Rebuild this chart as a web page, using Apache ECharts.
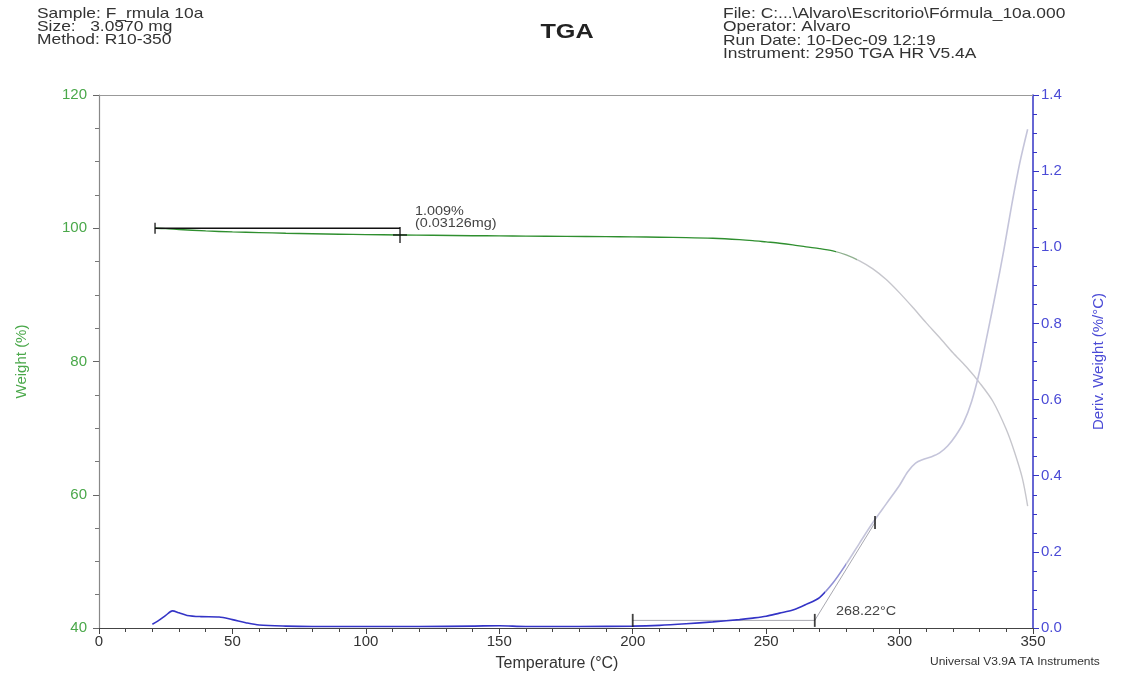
<!DOCTYPE html>
<html>
<head>
<meta charset="utf-8">
<title>TGA</title>
<script src="https://cdn.jsdelivr.net/npm/echarts@6/dist/echarts.min.js"></script>
<style>
  html, body { margin: 0; padding: 0; background: #fff; }
  #chart { width: 1142px; height: 680px; }
</style>
</head>
<body>
<div id="chart"></div>
<script>
// Weight curve: temperature (°C) and weight (%)
var weightTemp = [21, 25, 30, 40, 50, 60, 70, 80, 90, 100, 112.8, 125, 140, 150, 160, 175, 190, 200, 210, 220, 230, 240, 245, 250, 255, 260, 265, 270, 275, 280, 285, 290, 295, 300, 305, 310, 315, 320, 325, 330, 335, 340, 343, 346, 348];
var weightPct = [100.0, 99.95, 99.82, 99.6, 99.45, 99.35, 99.25, 99.17, 99.1, 99.05, 98.99, 98.94, 98.88, 98.85, 98.82, 98.78, 98.74, 98.7, 98.65, 98.6, 98.5, 98.3, 98.15, 97.95, 97.75, 97.5, 97.2, 96.95, 96.6, 96.0, 95.1, 93.9, 92.3, 90.3, 88.1, 85.8, 83.6, 81.3, 79.2, 76.8, 74.0, 69.8, 66.5, 62.5, 58.3];

// Derivative weight curve: temperature (°C) and %/°C
var derivTemp = [20, 22, 25, 27.5, 30, 33, 38, 45, 50, 55, 60, 70, 80, 100, 120, 140, 150, 160, 180, 200, 210, 220, 230, 240, 245, 250, 255, 260, 265, 270, 275, 280, 285, 290, 295, 300, 303, 306, 309, 312, 315, 318, 321, 324, 327, 330, 333, 336, 339, 342, 345, 348];
var derivVal = [0.010, 0.018, 0.033, 0.045, 0.040, 0.033, 0.030, 0.029, 0.022, 0.014, 0.008, 0.005, 0.004, 0.004, 0.004, 0.005, 0.006, 0.004, 0.004, 0.005, 0.007, 0.011, 0.016, 0.022, 0.026, 0.031, 0.039, 0.047, 0.062, 0.080, 0.118, 0.168, 0.223, 0.277, 0.326, 0.375, 0.410, 0.433, 0.443, 0.450, 0.460, 0.478, 0.505, 0.540, 0.595, 0.675, 0.775, 0.880, 0.990, 1.110, 1.220, 1.310];

// Weight-change analysis
var lossStartTemp = 21;
var lossEndTemp = 112.8;
var lossStartPct = 100.0;
var lossPct = 1.009;
var lossMg = 0.03126;

// Onset analysis on the derivative signal
var baselineStartTemp = 200;
var onsetTemp = 268.22;
var onsetBaseline = 0.02;
var tangentEndTemp = 290.8;
var tangentEndVal = 0.277;

// Axis ticks
var tempTicks = [0, 50, 100, 150, 200, 250, 300, 350];
var weightTicks = [40, 60, 80, 100, 120];
var derivTicks = [0.0, 0.2, 0.4, 0.6, 0.8, 1.0, 1.2, 1.4];

function zip(a, b) { return a.map(function (v, i) { return [v, b[i]]; }); }

var GREEN = '#2f8f2f';
var GREEN_TXT = '#4aa84a';
var BLUE = '#3434c6';
var BLUE_TXT = '#4b4bd6';
var FONT = '"Liberation Sans", Arial, sans-serif';
var SX = 1.2;

function txt(x, y, s, size, opts) {
  opts = opts || {};
  return {
    type: 'text', x: x, y: y, scaleX: SX, silent: true,
    style: {
      text: s, x: 0, y: 0,
      fontFamily: FONT, fontSize: size, fontWeight: opts.bold ? 'bold' : 'normal',
      fill: opts.color || '#333', align: opts.align || 'left', verticalAlign: 'middle'
    }
  };
}

var chart = echarts.init(document.getElementById('chart'), null, { renderer: 'canvas' });

var option = {
  animation: false,
  backgroundColor: '#ffffff',
  grid: { left: 99, right: 109, top: 95, bottom: 52, containLabel: false },
  xAxis: [{
    type: 'value', min: tempTicks[0], max: tempTicks[tempTicks.length - 1], interval: 50,
    axisLine: { show: true, onZero: false, lineStyle: { color: '#444', width: 1.2 } },
    axisTick: { show: true, length: 6, lineStyle: { color: '#444' } },
    minorTick: { show: true, splitNumber: 5, length: 4, lineStyle: { color: '#444' } },
    splitLine: { show: false },
    axisLabel: { color: '#333', fontSize: 15, fontFamily: FONT, margin: 6 },
    name: 'Temperature (°C)', nameLocation: 'middle', nameGap: 28,
    nameTextStyle: { color: '#333', fontSize: 16, fontFamily: FONT, padding: [0, 18, 0, 0] }
  }, {
    type: 'value', position: 'top', min: 0, max: 350,
    axisLine: { show: true, onZero: false, lineStyle: { color: '#999', width: 1 } },
    axisTick: { show: false }, axisLabel: { show: false }, splitLine: { show: false }
  }],
  yAxis: [{
    type: 'value', position: 'left', min: weightTicks[0], max: weightTicks[weightTicks.length - 1], interval: 20,
    axisLine: { show: true, onZero: false, lineStyle: { color: '#888', width: 1.2 } },
    axisTick: { show: true, length: 6, lineStyle: { color: '#666' } },
    minorTick: { show: true, splitNumber: 4, length: 4, lineStyle: { color: '#777' } },
    splitLine: { show: false },
    axisLabel: { color: GREEN_TXT, fontSize: 15, fontFamily: FONT, margin: 12 },
    name: 'Weight (%)', nameLocation: 'middle', nameGap: 70, nameRotate: 90,
    nameTextStyle: { color: GREEN_TXT, fontSize: 15, fontFamily: FONT }
  }, {
    type: 'value', position: 'right', min: derivTicks[0], max: derivTicks[derivTicks.length - 1], interval: 0.2,
    axisLine: { show: true, onZero: false, lineStyle: { color: BLUE, width: 1.5 } },
    axisTick: { show: true, length: 6, lineStyle: { color: BLUE } },
    minorTick: { show: true, splitNumber: 4, length: 4, lineStyle: { color: BLUE } },
    splitLine: { show: false },
    axisLabel: { color: BLUE_TXT, fontSize: 15, fontFamily: FONT, margin: 8,
      formatter: function (v) { return v.toFixed(1); } },
    name: 'Deriv. Weight (%/°C)', nameLocation: 'middle', nameGap: 58, nameRotate: 90,
    nameTextStyle: { color: BLUE_TXT, fontSize: 15, fontFamily: FONT }
  }],
  visualMap: [{
    type: 'piecewise', show: false, seriesIndex: 0, dimension: 0,
    pieces: [
      { lt: 276, color: GREEN },
      { gte: 276, lt: 284, color: '#8fb08f' },
      { gte: 284, color: '#c6c6cc' }
    ]
  }, {
    type: 'piecewise', show: false, seriesIndex: 1, dimension: 0,
    pieces: [
      { lt: 272, color: BLUE },
      { gte: 272, lt: 280, color: '#9090d4' },
      { gte: 280, color: '#c4c4da' }
    ]
  }],
  series: [{
    name: 'Weight', type: 'line', xAxisIndex: 0, yAxisIndex: 0,
    data: zip(weightTemp, weightPct), showSymbol: false, smooth: 0.3,
    lineStyle: { width: 1.4 }, z: 3
  }, {
    name: 'Deriv. Weight', type: 'line', xAxisIndex: 0, yAxisIndex: 1,
    data: zip(derivTemp, derivVal), showSymbol: false, smooth: 0.3,
    lineStyle: { width: 1.6 }, z: 3
  }, {
    name: 'Weight change', type: 'line', xAxisIndex: 0, yAxisIndex: 0,
    data: [[lossStartTemp, lossStartPct], [lossEndTemp, lossStartPct]],
    showSymbol: false, lineStyle: { color: '#111', width: 1.3 }, z: 4, silent: true
  }, {
    name: 'Weight change limits', type: 'scatter', xAxisIndex: 0, yAxisIndex: 0,
    symbol: 'rect', itemStyle: { color: '#111' }, z: 5, silent: true,
    data: [
      { value: [lossStartTemp, lossStartPct], symbolSize: [1.6, 11] },
      { value: [lossEndTemp, lossStartPct - lossPct], symbolSize: [1.6, 16] },
      { value: [lossEndTemp, lossStartPct - lossPct], symbolSize: [14, 1.6] }
    ]
  }, {
    name: 'Onset construction', type: 'line', xAxisIndex: 0, yAxisIndex: 1,
    data: [[baselineStartTemp, onsetBaseline], [onsetTemp, onsetBaseline], [tangentEndTemp, tangentEndVal]],
    showSymbol: false, lineStyle: { color: '#a8a8b0', width: 1 }, z: 2, silent: true
  }, {
    name: 'Onset limits', type: 'scatter', xAxisIndex: 0, yAxisIndex: 1,
    symbol: 'rect', symbolSize: [1.8, 13], itemStyle: { color: '#111' }, z: 5, silent: true,
    data: [[baselineStartTemp, onsetBaseline], [onsetTemp, onsetBaseline], [tangentEndTemp, tangentEndVal]]
  }],
  graphic: [
    txt(37, 14, 'Sample: F_rmula 10a', 14.5),
    txt(37, 27, 'Size:   3.0970 mg', 14.5),
    txt(37, 40, 'Method: R10-350', 14.5),
    txt(567, 32, 'TGA', 21, { bold: true, align: 'center', color: '#222' }),
    txt(723, 14, 'File: C:...\\Alvaro\\Escritorio\\Fórmula_10a.000', 14.5),
    txt(723, 27, 'Operator: Alvaro', 14.5),
    txt(723, 41, 'Run Date: 10-Dec-09 12:19', 14.5),
    txt(723, 54, 'Instrument: 2950 TGA HR V5.4A', 14.5),
    txt(415, 212, lossPct.toFixed(3) + '%', 12, { color: '#444' }),
    txt(415, 224, '(' + lossMg.toFixed(5) + 'mg)', 12, { color: '#444' }),
    txt(836, 612, onsetTemp.toFixed(2) + '°C', 12, { color: '#444' }),
    txt(930, 662, 'Universal V3.9A TA Instruments', 10, { color: '#333' })
  ]
};

chart.setOption(option);
</script>
</body>
</html>
